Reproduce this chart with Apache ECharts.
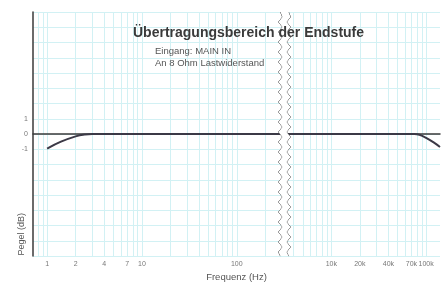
<!DOCTYPE html>
<html>
<head>
<meta charset="utf-8">
<script src="https://cdn.jsdelivr.net/npm/echarts@6/dist/echarts.min.js"></script>
<style>html,body{margin:0;padding:0;background:#fff}#c{width:444px;height:287px}</style>
</head>
<body>
<div id="c"></div>
<script>
// Data
var freqs  = [1, 1.4, 2, 2.5, 3, 10, 100, 280, 4000, 10000, 50000, 75000, 85000, 100000, 120000, 140000];
var levels = [-0.95, -0.5, -0.15, -0.03, 0, 0, 0, 0, 0, 0, 0, 0, -0.05, -0.25, -0.55, -0.85];
var xLabelValues = [1, 2, 4, 7, 10, 100, 10000, 20000, 40000, 70000, 100000];
var xGridValues = [0.8, 0.9, 1, 2, 3, 4, 5, 6, 7, 8, 9, 10, 20, 30, 40, 50, 60, 70, 80, 90, 100, 200,
                   4000, 5000, 6000, 7000, 8000, 9000, 10000, 20000, 30000, 40000, 50000, 60000, 70000, 80000, 90000, 100000];
var yLabelValues = [1, 0, -1];
var breakStart = 285, breakEnd = 3500;

var chart = echarts.init(document.getElementById('c'));
var font = 'Liberation Sans, Arial, sans-serif';
chart.setOption({
  backgroundColor: '#ffffff',
  animation: false,
  title: [
    {text: 'Übertragungsbereich der Endstufe', left: 128, top: 21, z: 50,
     textStyle: {fontFamily: font, fontSize: 14, fontWeight: 'bold', color: '#3a3a3a'}},
    {text: 'Eingang: MAIN IN\nAn 8 Ohm Lastwiderstand', left: 150, top: 40, z: 50,
     textStyle: {fontFamily: font, fontSize: 9.5, fontWeight: 'normal', color: '#555', lineHeight: 12}}
  ],
  grid: {left: 33, right: 4, top: 12, bottom: 30},
  graphic: [
    {type: 'text', left: 17, top: 213, rotation: Math.PI / 2,
     style: {text: 'Pegel (dB)', fontFamily: font, fontSize: 9, fill: '#555'}}
  ],
  xAxis: {
    type: 'log',
    min: 0.71, max: 140000,
    breaks: [{start: breakStart, end: breakEnd, gap: '2%'}],
    breakArea: {
      show: true,
      itemStyle: {color: '#ffffff', borderColor: '#444', borderWidth: 1, borderType: 'solid', opacity: 1},
      zigzagAmplitude: 2, zigzagMinSpan: 5, zigzagMaxSpan: 5, zigzagZ: 20,
      expandOnClick: false
    },
    name: 'Frequenz (Hz)', nameLocation: 'middle', nameGap: 15,
    nameTextStyle: {fontFamily: font, fontSize: 9.5, color: '#555'},
    axisLine: {show: true, lineStyle: {color: '#3a3a3a', width: 1.5}},
    axisTick: {show: false, customValues: xGridValues},
    axisLabel: {customValues: xLabelValues, fontFamily: font, fontSize: 7, color: '#777', margin: 4,
      formatter: function (v) { return v >= 1000 ? (v / 1000) + 'k' : String(v); }},
    splitLine: {show: true, lineStyle: {color: '#d2f1f4', width: 1}}
  },
  yAxis: {
    type: 'value', min: -8, max: 8, interval: 1,
    axisLine: {show: true, lineStyle: {color: '#3a3a3a', width: 1.5}},
    axisTick: {show: false},
    axisLabel: {customValues: yLabelValues, fontFamily: font, fontSize: 7, color: '#777', margin: 5},
    splitLine: {show: true, lineStyle: {color: '#d2f1f4', width: 1}}
  },
  series: [{
    type: 'line', smooth: 0.4, showSymbol: false,
    data: freqs.map(function (f, i) { return [f, levels[i]]; }),
    lineStyle: {color: '#3b3946', width: 2}
  }]
});
</script>
</body>
</html>
